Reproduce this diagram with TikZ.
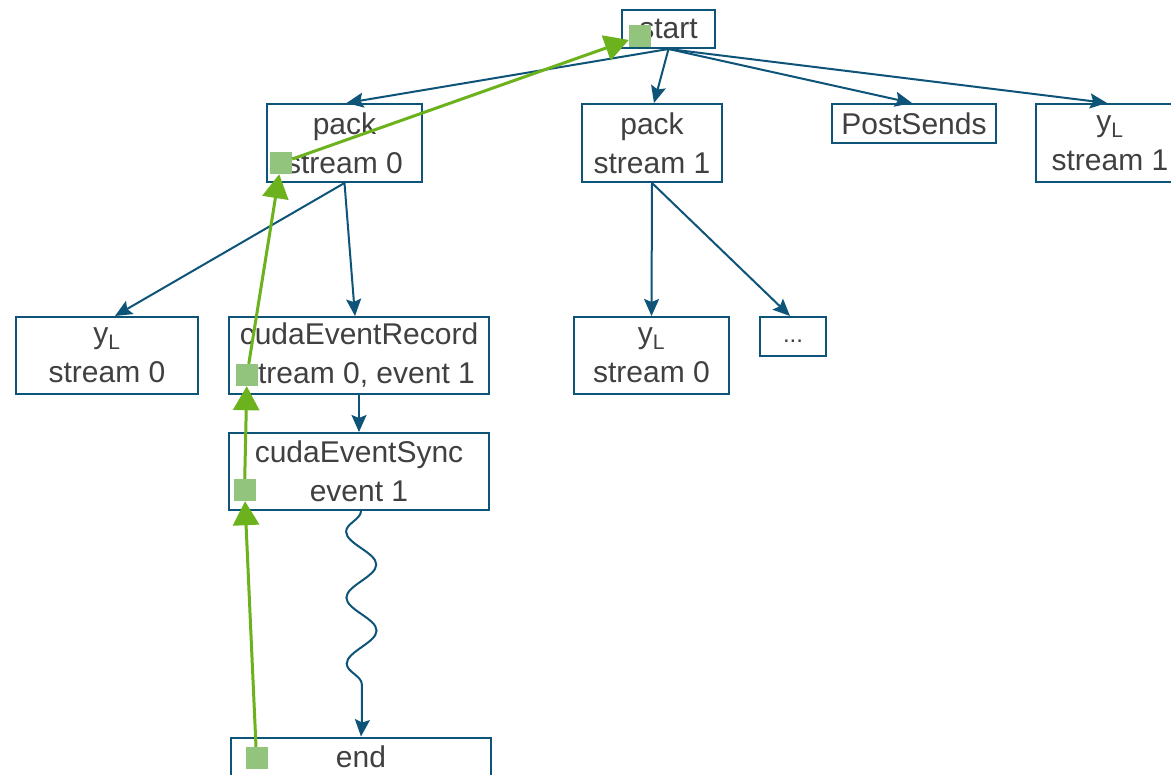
\documentclass[tikz,border=0pt]{standalone}
\usepackage{fontspec}
\setmainfont{Liberation Sans}
\usetikzlibrary{arrows.meta,decorations.pathmorphing,calc}
\definecolor{edgeblue}{RGB}{14,84,120}
\definecolor{textgray}{RGB}{64,64,64}
\definecolor{glin}{RGB}{108,178,28}
\definecolor{gsq}{RGB}{147,196,125}
\tikzset{
  box/.style={draw=edgeblue, line width=2pt, text=textgray, inner sep=0pt, align=center,
    font=\fontsize{30}{39}\selectfont},
  bedge/.style={draw=edgeblue, line width=2pt, -{Stealth[length=17pt,width=15pt,inset=3pt]}},
  sq/.style={fill=gsq, minimum size=22pt, inner sep=0pt},
  garrow/.style={draw=glin, line width=3pt, -{Triangle[length=24pt,width=26pt]}},
}
\begin{document}
\begin{tikzpicture}[x=1pt,y=-1pt]
\clip (0,0) rectangle (1171,775);
\fill[white] (0,0) rectangle (1171,775);
% nodes
\node[box, minimum width=93pt, minimum height=38pt] (start) at (668.5,29) {start};
\node[box, minimum width=155pt, minimum height=78pt] (pack0) at (344.5,143) {pack\\stream 0};
\node[box, minimum width=140pt, minimum height=78pt] (pack1) at (652,143) {pack\\stream 1};
\node[box, minimum width=164pt, minimum height=39pt] (post) at (914,123.5) {PostSends};
\node[box, minimum width=148pt, minimum height=78pt] (yl1) at (1110,143) {y\textsubscript{L}\\stream 1};
\node[box, minimum width=182pt, minimum height=77pt] (yl0) at (107,355.5) {y\textsubscript{L}\\stream 0};
\node[box, minimum width=260pt, minimum height=77pt] (rec) at (359,355.5) {cudaEventRecord\\stream 0, event 1};
\node[box, minimum width=155pt, minimum height=77pt] (yl0b) at (651.5,355.5) {y\textsubscript{L}\\stream 0};
\node[box, minimum width=66pt, minimum height=39pt, font=\fontsize{24}{30}\selectfont] (dots) at (793,336.5) {\vphantom{Ag}...};
\node[box, minimum width=260pt, minimum height=77pt] (sync) at (359,471.5) {cudaEventSync\\event 1};
\node[box, minimum width=260pt, minimum height=39pt] (end) at (361,757) {end};
% blue edges
\draw[bedge] (start.south) -- ([xshift=2pt]pack0.north);
\draw[bedge] (start.south) -- ([xshift=2pt]pack1.north);
\draw[bedge] (start.south) -- ([xshift=-2pt]post.north);
\draw[bedge] (start.south) -- ([xshift=-3pt]yl1.north);
\draw[bedge] (pack0.south) -- ([xshift=8pt]yl0.north);
\draw[bedge] (pack0.south) -- ([xshift=-4pt]rec.north);
\draw[bedge] (pack1.south) -- (yl0b.north);
\draw[bedge] (pack1.south) -- ([xshift=-3pt]dots.north);
\draw[bedge] (rec.south) -- (sync.south |- sync.north);
\draw[draw=edgeblue, line width=2pt, decorate,
  decoration={snake, amplitude=-15pt, segment length=66pt, post length=38pt}]
  ([xshift=2pt]sync.south) -- ([xshift=1pt]$(end.north)+(0,-12)$);
\draw[bedge] ([xshift=1pt]$(end.north)+(0,-12.5)$) -- (end.north);
% green path
\node[sq] (s1) at (640,36) {};
\node[sq] (s2) at (281,163) {};
\node[sq] (s3) at (247,375) {};
\node[sq] (s4) at (244.5,490) {};
\node[sq] (s5) at (256.5,758) {};
\draw[garrow] (s5) -- (s4);
\draw[garrow] (s4) -- (s3);
\draw[garrow] (s3) -- (s2);
\draw[garrow] (s2) -- (s1);
\end{tikzpicture}
\end{document}
